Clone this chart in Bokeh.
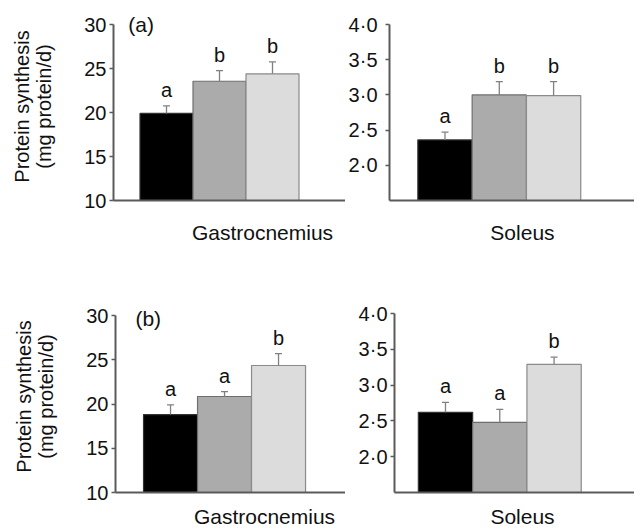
import json
from bokeh.plotting import figure
from bokeh.layouts import column, row
from bokeh.models import (Range1d, FixedTicker, CustomJSTickFormatter, Whisker,
                          TeeHead, ColumnDataSource)
from bokeh.core.properties import value
from bokeh.embed import file_html
from bokeh.resources import INLINE

# ---------------- data ----------------
muscles = ["Gastrocnemius", "Soleus"]
panels = ["(a)", "(b)"]
groups = ["G1", "G2", "G3"]
colors = ["#000000", "#ababab", "#dcdcdc"]
outlines = ["#333333", "#6e6e6e", "#8a8a8a"]

gastro_a_mean = [19.9, 23.55, 24.4]
gastro_a_sem = [0.85, 1.2, 1.35]
gastro_a_letters = ["a", "b", "b"]
soleus_a_mean = [2.36, 3.0, 2.99]
soleus_a_sem = [0.11, 0.19, 0.2]
soleus_a_letters = ["a", "b", "b"]

gastro_b_mean = [18.8, 20.85, 24.35]
gastro_b_sem = [1.1, 0.55, 1.35]
gastro_b_letters = ["a", "a", "b"]
soleus_b_mean = [2.62, 2.48, 3.29]
soleus_b_sem = [0.14, 0.18, 0.1]
soleus_b_letters = ["a", "a", "b"]

gastro_ticks = [10, 15, 20, 25, 30]
soleus_ticks = [2.0, 2.5, 3.0, 3.5, 4.0]
gastro_base = 10
soleus_base = 1.5
ylabel = "Protein synthesis\n(mg protein/d)"

FONT = "Liberation Sans"
AXIS_COLOR = "#5a5a5a"


def panel(means, sems, letters, base, ticks, tick_fmt, yr, xr, label_pos, label,
          width, height, mb_left, mb_top, mb_bottom, label_standoff, tick_standoff,
          tag=None, tag_xy=None, ylab=None):
    p = figure(width=width, height=height, output_backend="svg", toolbar_location=None,
               x_range=Range1d(*xr), y_range=Range1d(base, yr),
               min_border_left=mb_left, min_border_right=0,
               min_border_top=mb_top, min_border_bottom=mb_bottom)
    p.outline_line_color = None
    p.grid.visible = False
    p.background_fill_color = "white"
    p.border_fill_color = "white"

    xs = list(range(len(means)))
    upper = [m + s for m, s in zip(means, sems)]
    src = ColumnDataSource(dict(x=xs, top=means, upper=upper, letter=letters,
                                color=colors, outline=outlines))
    p.add_layout(Whisker(base="x", lower="top", upper="upper", source=src,
                         line_color="#808080", line_width=1.3,
                         upper_head=TeeHead(size=7, line_color="#808080", line_width=1.3),
                         lower_head=None, level="glyph"))
    p.vbar(x="x", top="top", bottom=base, width=1.0, source=src,
           fill_color="color", line_color="outline", line_width=1.2)
    p.text(x="x", y="upper", text="letter", source=src, text_align="center",
           text_baseline="alphabetic", y_offset=-16, text_font=value(FONT),
           text_font_size="20px", text_color="#111111")
    if tag is not None:
        p.text(x=[tag_xy[0]], y=[tag_xy[1]], text=[tag], text_align="left",
               text_baseline="top", text_font=value(FONT), text_font_size="21px",
               text_color="#111111")

    ya = p.yaxis[0]
    ya.ticker = FixedTicker(ticks=ticks)
    if tick_fmt is not None:
        ya.formatter = tick_fmt
    ya.bounds = (base, ticks[-1])
    ya.axis_line_color = AXIS_COLOR
    ya.axis_line_width = 2
    ya.major_tick_line_color = AXIS_COLOR
    ya.major_tick_line_width = 1.5
    ya.major_tick_out = 4
    ya.major_tick_in = 0
    ya.minor_tick_line_color = None
    ya.major_label_standoff = tick_standoff
    ya.major_label_text_font = FONT
    ya.major_label_text_font_size = "20px"
    ya.major_label_text_color = "#111111"
    if ylab:
        ya.axis_label = ylab
        ya.axis_label_text_font = FONT
        ya.axis_label_text_font_size = "20px"
        ya.axis_label_text_font_style = "normal"
        ya.axis_label_text_color = "#111111"
        ya.axis_label_text_line_height = 1.0
        ya.axis_label_standoff = 26

    xa = p.xaxis[0]
    xa.ticker = FixedTicker(ticks=[label_pos])
    xa.formatter = CustomJSTickFormatter(code="return %s;" % json.dumps(label))
    xa.axis_line_color = AXIS_COLOR
    xa.axis_line_width = 2
    xa.major_tick_line_color = None
    xa.major_tick_out = 0
    xa.major_tick_in = 0
    xa.minor_tick_line_color = None
    xa.major_label_standoff = label_standoff
    xa.major_label_text_font = FONT
    xa.major_label_text_font_size = "21px"
    xa.major_label_text_color = "#111111"
    return p


soleus_fmt = CustomJSTickFormatter(code="return tick.toFixed(1).replace('.', '\u00b7');")

# Row (a)
pa1 = panel(gastro_a_mean, gastro_a_sem, gastro_a_letters, gastro_base, gastro_ticks, None,
            31.364, (-1.0, 3.377), 1.811, muscles[0],
            345, 262, 113, 12, 62, 20, 3, tag=panels[0], tag_xy=(-0.72, 31.3), ylab=ylabel)
pa2 = panel(soleus_a_mean, soleus_a_sem, soleus_a_letters, soleus_base, soleus_ticks, soleus_fmt,
            4.1705, (-1.022, 3.490), 1.427, muscles[1],
            289, 262, 44, 12, 62, 20, 8)
# Row (b)
pb1 = panel(gastro_b_mean, gastro_b_sem, gastro_b_letters, gastro_base, gastro_ticks, None,
            31.695, (-1.019, 3.24), 1.74, muscles[0],
            345, 269, 115, 38, 39, 12, 3, tag=panels[1], tag_xy=(-0.65, 30.95), ylab=ylabel)
pb2 = panel(soleus_b_mean, soleus_b_sem, soleus_b_letters, soleus_base, soleus_ticks, soleus_fmt,
            4.1816, (-0.939, 3.481), 1.418, muscles[1],
            289, 269, 49, 38, 39, 12, 3)

layout = column(row(pa1, pa2), row(pb1, pb2))
open("out.html", "w").write(file_html(layout, INLINE))
